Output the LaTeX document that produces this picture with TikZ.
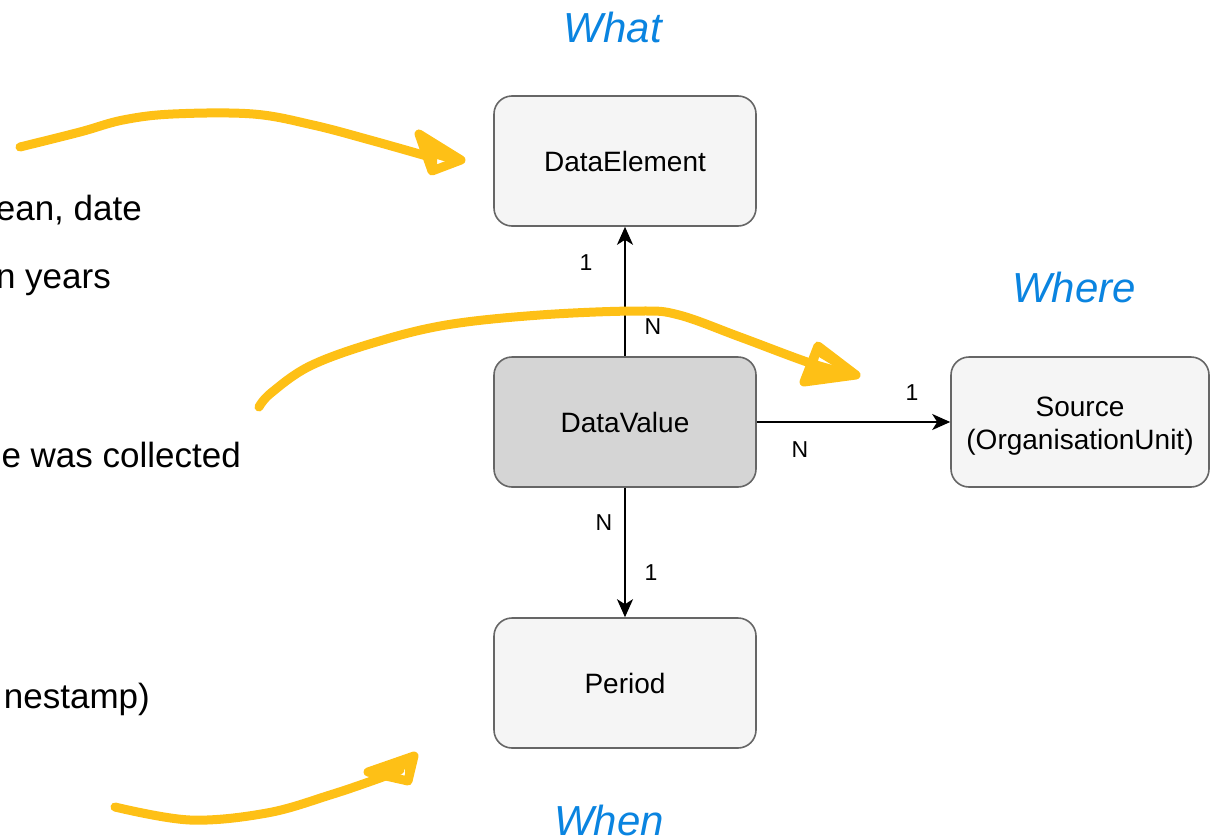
\documentclass[tikz,border=0pt]{standalone}
\usepackage{fontspec}
\setmainfont{Liberation Sans}
\usetikzlibrary{arrows.meta}
\definecolor{boxfill}{HTML}{F5F5F5}
\definecolor{boxline}{HTML}{666666}
\definecolor{valfill}{HTML}{D5D5D5}
\definecolor{marker}{HTML}{FEC016}
\definecolor{qblue}{HTML}{0A84E0}
\tikzset{
  entity/.style={draw=boxline, line width=1.6pt, fill=boxfill, rounded corners=18pt,
    minimum width=262pt, minimum height=130pt, inner sep=0pt, align=center,
    font=\fontsize{28}{33}\selectfont},
  entitytext/.style={inner sep=0pt, align=center, font=\fontsize{28}{33}\selectfont},
  link/.style={draw=black, line width=2pt, -{Stealth[length=18pt,width=16pt,inset=5pt]}},
  mult/.style={inner sep=0pt, font=\fontsize{23}{27}\selectfont},
  question/.style={anchor=base, inner sep=0pt, text=qblue, font=\fontsize{42}{48}\selectfont\itshape},
  note/.style={anchor=base east, inner sep=0pt, font=\fontsize{35}{40}\selectfont},
  scribble/.style={draw=marker, line width=9pt, line cap=round, line join=round},
  scribblehead/.style={fill=marker, even odd rule},
}
\begin{document}
\begin{tikzpicture}[x=1pt,y=-1pt]
\useasboundingbox (0,0) rectangle (1210,838);

% side notes, running in from the left edge
\node[note] (n1) at (142,220) {ean, date};
\node[note] (n2) at (111,288) {n years};
\node[note] (n3) at (241,467) {e was collected};
\node[note] (n4) at (150,708) {nestamp)};

% entities
\node[entity] (de) at (625,161) {DataElement};
\node[entity, fill=valfill] (dv) at (625,422) {DataValue};
\node[entity] (pe) at (625,683) {Period};
\node[entity, minimum width=258pt] (so) at (1080,422) {};
\node[entitytext] (sotext) at ([yshift=-4pt]so.center) {Source\\(OrganisationUnit)};

% relations
\draw[link] (dv.north) -- (de.south);
\draw[link] (dv.east) -- (so.west);
\draw[link] (dv.south) -- (pe.north);

% multiplicities
\node[mult] (m1) at (586,263) {1};
\node[mult] (m2) at (653,327) {N};
\node[mult] (m3) at (912,393) {1};
\node[mult] (m4) at (800,450) {N};
\node[mult] (m5) at (604,523) {N};
\node[mult] (m6) at (651,573) {1};

% questions
\node[question] (qwhat) at (613,42) {What};
\node[question] (qwhere) at (1074,302) {Where};
\node[question] (qwhen) at (609,835) {When};

% marker strokes: shaft, then a hand-drawn triangular head with a small gap inside
\draw[scribble] plot[smooth, tension=0.6] coordinates
  {(20,147) (80,132) (123,120) (173,114) (253,114) (313,125) (370,140) (430,157)};
\draw[scribble] (419,134) -- (461,160) -- (432,171) -- cycle;
\path[scribblehead] (419,134) -- (461,160) -- (432,171) -- cycle
  (437,159) -- (447,162) -- (437,166) -- cycle;

\draw[scribble] plot[smooth, tension=0.6] coordinates
  {(259,407) (271,393) (310,366) (373,343) (446,325) (540,315) (638,311) (679,315) (740,337) (810,363) (850,374)};
\draw[scribble] (818,346) -- (856,375) -- (804,382) -- cycle;
\path[scribblehead] (818,346) -- (856,375) -- (804,382) -- cycle
  (819,357) -- (842,371) -- (816,369) -- cycle;

\draw[scribble] plot[smooth, tension=0.6] coordinates
  {(115,807) (190,820) (267,813) (330,795) (380,778) (400,770)};
\draw[scribble] (368,772) -- (414,756) -- (408,781) -- cycle;
\path[scribblehead] (368,772) -- (414,756) -- (408,781) -- cycle
  (397,775) -- (405,769) -- (405,777) -- cycle;
\end{tikzpicture}
\end{document}
